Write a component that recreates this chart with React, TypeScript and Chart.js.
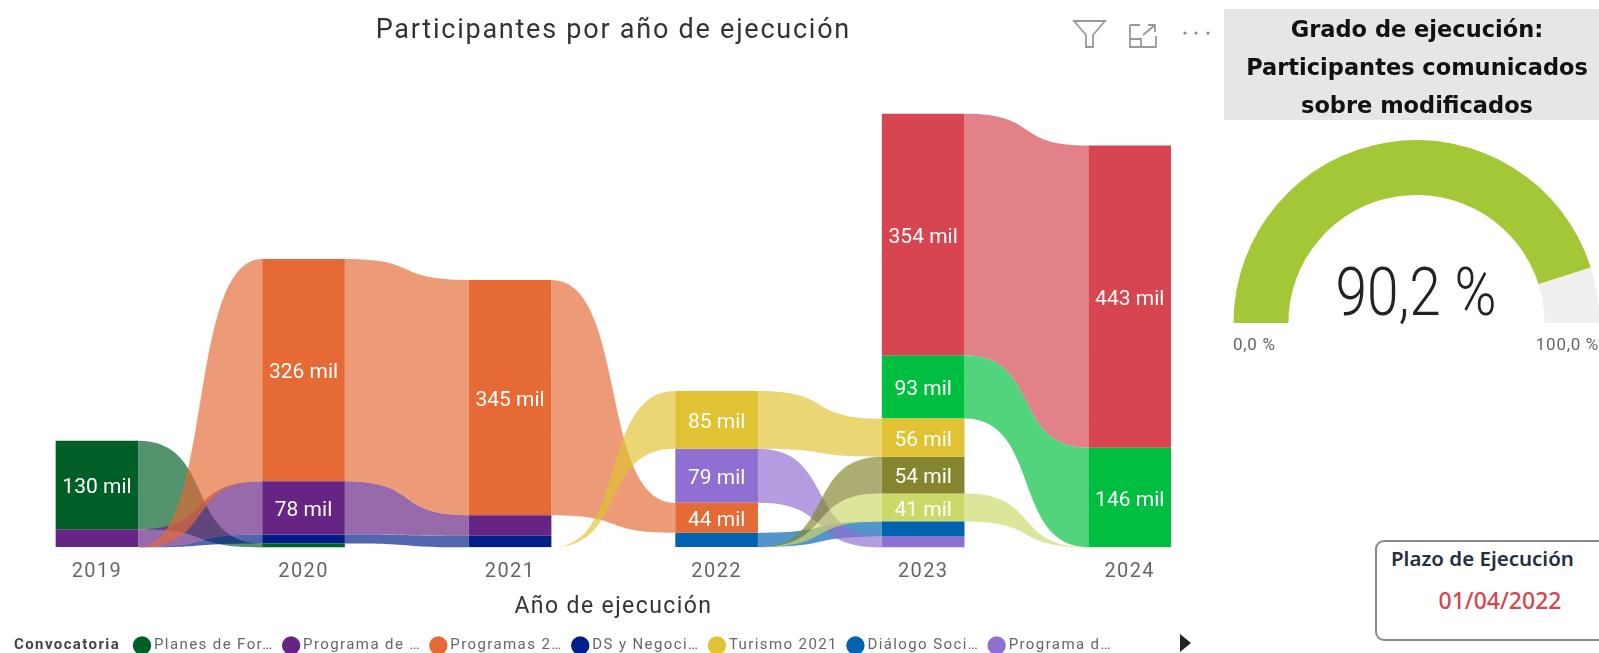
import React, { useEffect, useRef } from "react";
import { Chart, registerables } from "chart.js";

Chart.register(...registerables);

const years = ["2019", "2020", "2021", "2022", "2023", "2024"];

const planes = [130, 6, 0, 0, 0, 0];
const programaDe = [26, 78, 30, 0, 0, 0];
const programas2 = [0.3, 326, 345, 44, 0, 0];
const dsNegocio = [0.3, 13, 17, 0, 0, 0];
const turismo = [0, 0, 0.3, 85, 56, 0];
const dialogo = [0, 0, 0, 21, 22, 0];
const programaD = [0, 0, 0, 79, 16, 0];
const oliva = [0, 0, 0, 0.3, 54, 0];
const lima = [0, 0, 0, 0.3, 41, 0.3];
const rojo = [0, 0, 0, 0, 354, 443];
const verde = [0, 0, 0, 0, 93, 146];

const seriesNames = [
  "Planes de For…",
  "Programa de …",
  "Programas 2…",
  "DS y Negoci…",
  "Turismo 2021",
  "Diálogo Soci…",
  "Programa d…",
  "Programa e…",
  "Programa f…",
  "Programa g…",
  "Programa h…",
];
const seriesValues = [planes, programaDe, programas2, dsNegocio, turismo, dialogo, programaD, oliva, lima, rojo, verde];
const seriesColors = [
  "#005f26",
  "#662483",
  "#e56a35",
  "#001e87",
  "#e1c233",
  "#0063b1",
  "#8f6fd1",
  "#84862f",
  "#ccd868",
  "#d64550",
  "#00bf40",
];

const gaugeValues = [90.2, 9.8];
const gaugeColors = ["#a4c737", "#f0efee"];
const gaugeCenter = "90,2 %";
const gaugeMin = "0,0 %";
const gaugeMax = "100,0 %";
const headingLines = ["Grado de ejecución:", "Participantes comunicados", "sobre modificados"];

const BAR_PCT = 0.4;
const LEGEND_ITEMS = 7;
const SPACING = "1.4px";

function stackFor(yearIndex: number) {
  const order = seriesValues
    .map((v, s) => ({ s, v: v[yearIndex] }))
    .filter((o) => o.v > 0)
    .sort((a, b) => a.v - b.v);
  const out: Record<number, [number, number]> = {};
  let cum = 0;
  order.forEach((o) => {
    out[o.s] = [cum, cum + o.v];
    cum += o.v;
  });
  return out;
}
const stacks = years.map((_, i) => stackFor(i));

const ribbonPlugin = {
  id: "ribbons",
  beforeLayout(chart: any) {
    chart.ctx.letterSpacing = SPACING;
  },
  afterLayout(chart: any) {
    const l = chart.legend;
    l.left = 144.5;
    l.right = 1268;
    l.top = 625;
    l.bottom = 653;
  },
  beforeDraw(chart: any) {
    chart.ctx.letterSpacing = SPACING;
    const tb = chart.titleBlock;
    if (tb && !tb._spaced) {
      tb._spaced = true;
      const orig = tb.draw.bind(tb);
      tb.draw = (...args: any[]) => {
        chart.ctx.letterSpacing = "1.76px";
        orig(...args);
        chart.ctx.letterSpacing = SPACING;
      };
    }
  },
  beforeDatasetsDraw(chart: any) {
    const { ctx, scales } = chart;
    const x = scales.x;
    const y = scales.y;
    const half = ((x.getPixelForValue(1) - x.getPixelForValue(0)) * BAR_PCT) / 2;
    ctx.save();
    ctx.globalAlpha = 0.68;
    seriesValues.forEach((_, s) => {
      for (let j = 0; j < years.length - 1; j++) {
        const a = stacks[j][s];
        const b = stacks[j + 1][s];
        if (!a || !b) continue;
        const x0 = x.getPixelForValue(j) + half;
        const x1 = x.getPixelForValue(j + 1) - half;
        const c0 = x0 + (x1 - x0) * 0.62;
        const c1 = x0 + (x1 - x0) * 0.38;
        const a0 = y.getPixelForValue(a[1]);
        const a1 = y.getPixelForValue(a[0]);
        const b0 = y.getPixelForValue(b[1]);
        const b1 = y.getPixelForValue(b[0]);
        ctx.beginPath();
        ctx.moveTo(x0, a0);
        ctx.bezierCurveTo(c0, a0, c1, b0, x1, b0);
        ctx.lineTo(x1, b1);
        ctx.bezierCurveTo(c1, b1, c0, a1, x0, a1);
        ctx.closePath();
        ctx.fillStyle = seriesColors[s];
        ctx.fill();
      }
    });
    ctx.restore();
  },
  afterDatasetsDraw(chart: any) {
    const { ctx } = chart;
    ctx.save();
    ctx.letterSpacing = "0px";
    ctx.font = "21px Roboto";
    ctx.fillStyle = "#ffffff";
    ctx.textAlign = "center";
    ctx.textBaseline = "middle";
    seriesValues.forEach((vals, s) => {
      const meta = chart.getDatasetMeta(s);
      vals.forEach((v, j) => {
        if (v < 40) return;
        const el = meta.data[j];
        ctx.fillText(`${v} mil`, el.x, (el.y + el.base) / 2 + 3);
      });
    });
    ctx.restore();
  },
  afterDraw(chart: any) {
    const { ctx } = chart;
    ctx.save();
    ctx.font = "bold 15px Roboto";
    ctx.fillStyle = "#444444";
    ctx.textAlign = "left";
    ctx.textBaseline = "middle";
    ctx.fillText("Convocatoria", 34, 645);
    ctx.restore();
  },
};

const gaugeText = {
  id: "gaugeText",
  afterDraw(chart: any) {
    const { ctx } = chart;
    ctx.save();
    ctx.fillStyle = "#222222";
    ctx.textAlign = "center";
    ctx.textBaseline = "middle";
    ctx.font = "300 66px Roboto";
    ctx.translate(216, 173);
    ctx.scale(0.86, 1);
    ctx.fillText(gaugeCenter, 0, 0);
    ctx.restore();
    ctx.save();
    ctx.fillStyle = "#666666";
    ctx.font = "17px Roboto";
    ctx.letterSpacing = "0.7px";
    ctx.textBaseline = "middle";
    ctx.textAlign = "left";
    ctx.fillText(gaugeMin, 33, 221);
    ctx.textAlign = "right";
    ctx.fillText(gaugeMax, 399, 221);
    ctx.restore();
  },
};

const abs = (left: number, top: number, extra: React.CSSProperties = {}): React.CSSProperties => ({
  position: "absolute",
  left,
  top,
  ...extra,
});

export default function App() {
  const mainRef = useRef<HTMLCanvasElement>(null);
  const gaugeRef = useRef<HTMLCanvasElement>(null);

  useEffect(() => {
    const main = new Chart(mainRef.current as HTMLCanvasElement, {
      type: "bar",
      plugins: [ribbonPlugin],
      data: {
        labels: years,
        datasets: seriesValues.map((_, s) => ({
          label: seriesNames[s],
          backgroundColor: seriesColors[s],
          borderWidth: 0,
          barPercentage: BAR_PCT,
          categoryPercentage: 1,
          grouped: false,
          data: years.map((__, j) => {
            const st = stacks[j][s];
            return st && st[1] - st[0] >= 1 ? st : null;
          }),
        })),
      } as any,
      options: {
        responsive: false,
        animation: false,
        layout: { padding: { left: 13.7, right: 15, top: 0, bottom: 0 } },
        plugins: {
          tooltip: { enabled: false },
          title: {
            display: true,
            text: "Participantes por año de ejecución",
            color: "#333333",
            font: { family: "Roboto", size: 27, weight: "normal", lineHeight: 1.2 },
            padding: { top: 15, bottom: 22.6 },
          },
          legend: {
            display: true,
            position: "bottom",
            align: "start",
            labels: {
              color: "#666666",
              font: { family: "Roboto", size: 15 },
              usePointStyle: true,
              pointStyle: "circle",
              boxWidth: 9,
              boxHeight: 13,
              padding: 13,
              filter: (item: any) => item.datasetIndex < LEGEND_ITEMS,
            },
          },
        },
        scales: {
          x: {
            stacked: false,
            grid: { display: false, drawTicks: false },
            border: { display: false },
            ticks: {
              color: "#666666",
              font: { family: "Roboto", size: 20 },
              padding: 12,
              autoSkip: false,
              maxRotation: 0,
            },
            title: {
              display: true,
              text: "Año de ejecución",
              color: "#333333",
              font: { family: "Roboto", size: 23, lineHeight: 1.2 },
              padding: { top: 0, bottom: -5.6 },
            },
            afterFit: (scale: any) => {
              scale.height = 653 - 547.5 - scale.chart.legend.height;
            },
          },
          y: { display: false, min: 0, max: 700 },
        },
      } as any,
    });

    const gauge = new Chart(gaugeRef.current as HTMLCanvasElement, {
      type: "doughnut",
      plugins: [gaugeText],
      data: {
        datasets: [{ data: gaugeValues, backgroundColor: gaugeColors, borderWidth: 0 }],
      },
      options: {
        responsive: false,
        animation: false,
        rotation: -90,
        circumference: 180,
        cutout: "70%",
        layout: { padding: { left: 33.5, right: 6.5, top: 15, bottom: 37 } },
        plugins: { legend: { display: false }, tooltip: { enabled: false } },
      } as any,
    });

    return () => {
      main.destroy();
      gauge.destroy();
    };
  }, []);

  return (
    <div
      style={{
        position: "fixed",
        left: 0,
        top: 0,
        width: 1599,
        height: 653,
        overflow: "hidden",
        background: "#ffffff",
        filter: "blur(0.55px)",
      }}
    >
      <canvas ref={mainRef} width={1268} height={653} style={abs(-20, 0, { display: "block" })} />

      <svg width={150} height={40} style={abs(1065, 14)} fill="none" stroke="#999999" strokeWidth={1.8}>
        <path d="M9 7 H40 L28 21 V33 H21 V21 Z" />
        <path d="M65 11 H75 M65 11 V33 H91 V22 M65 25 H76 V33 M78 21 L90 11 M83 11 H90 V18" />
        <circle cx={120} cy={19} r={1.6} fill="#8a8a8a" stroke="none" />
        <circle cx={131} cy={19} r={1.6} fill="#8a8a8a" stroke="none" />
        <circle cx={143} cy={19} r={1.6} fill="#8a8a8a" stroke="none" />
      </svg>

      <svg width={14} height={22} style={abs(1179, 632)}>
        <path d="M1 2 L12 11 L1 20 Z" fill="#222222" />
      </svg>

      <div style={abs(1224, 9, { width: 375, height: 111, background: "#e6e6e6" })} />
      {headingLines.map((t, i) => (
        <div
          key={t}
          style={abs(1224, [14, 52, 90][i], {
            width: 386,
            textAlign: "center",
            font: "bold 22.5px 'DejaVu Sans'",
            lineHeight: "30px",
            color: "#111111",
            whiteSpace: "nowrap",
          })}
        >
          {t}
        </div>
      ))}

      <canvas ref={gaugeRef} width={406} height={235} style={abs(1200, 125, { display: "block" })} />

      <div
        style={abs(1375, 540, {
          width: 300,
          height: 101,
          boxSizing: "border-box",
          border: "2px solid #8a8a8a",
          borderRadius: 9,
        })}
      />
      <div style={abs(1391, 545, { font: "600 20.5px 'Noto Sans'", lineHeight: "26px", color: "#252f40", whiteSpace: "nowrap" })}>
        Plazo de Ejecución
      </div>
      <div style={abs(1400, 586, { width: 200, textAlign: "center", font: "500 23px 'Noto Sans'", lineHeight: "28px", color: "#d64550" })}>
        01/04/2022
      </div>
    </div>
  );
}
